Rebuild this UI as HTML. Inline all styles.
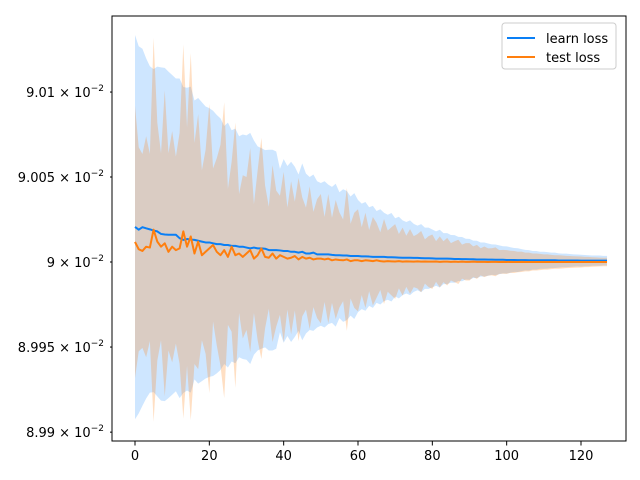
<!DOCTYPE html>
<html><head><meta charset="utf-8"><style>
body{margin:0;background:#fff;}
svg{display:block;font-family:"DejaVu Sans","Liberation Sans",sans-serif;}
</style></head><body>
<svg id="chart" width="640" height="480" viewBox="0 0 640 480" xmlns="http://www.w3.org/2000/svg">
<rect width="640" height="480" fill="#fff"/>
<g id="plot"></g>
<rect x="112" y="16" width="514" height="425" fill="none" stroke="#000" stroke-width="1"/>
<g id="axes" font-size="13" fill="#000"></g>
<g>
<rect x="502" y="23" width="114" height="46" rx="3" fill="#fff" fill-opacity="0.8" stroke="#ccc"/>
<line x1="507" y1="38" x2="535" y2="38" stroke="#0a7ff5" stroke-width="2"/>
<text x="546" y="43" font-size="13">learn loss</text>
<line x1="507" y1="57" x2="535" y2="57" stroke="#ff7f0e" stroke-width="2"/>
<text x="546" y="62" font-size="13">test loss</text>
</g>
</svg>
<script>
// offsets from 9e-2 in units of 1e-5
const learnMean=[2.06,1.9,2.05,1.98,1.92,1.85,1.8,1.65,1.62,1.6,1.6,1.6,1.4,1.3,1.35,1.32,1.3,1.25,1.2,1.15,1.15,1.1,1.05,1.05,1.0,1.0,0.95,0.95,0.9,0.9,0.85,0.8,0.85,0.8,0.8,0.78,0.7,0.7,0.7,0.68,0.65,0.65,0.6,0.6,0.55,0.6,0.5,0.5,0.55,0.45,0.45,0.45,0.45,0.42,0.4,0.4,0.38,0.38,0.35,0.35,0.35,0.33,0.33,0.32,0.3,0.3,0.3,0.3,0.28,0.28,0.27,0.26,0.25,0.25,0.25,0.24,0.24,0.23,0.22,0.22,0.21,0.2,0.2,0.2,0.2,0.19,0.18,0.18,0.17,0.17,0.16,0.16,0.15,0.15,0.15,0.14,0.14,0.13,0.13,0.13,0.12,0.12,0.12,0.11,0.11,0.11,0.1,0.1,0.1,0.1,0.1,0.1,0.1,0.1,0.09,0.09,0.09,0.09,0.09,0.09,0.08,0.08,0.08,0.08,0.08,0.08,0.08,0.08];
const learnStd=[11.3,10.8,10.5,10.0,9.6,9.5,9.7,9.8,9.8,9.6,9.4,9.2,9.4,9.0,8.9,9.0,8.2,8.4,8.2,8.0,7.9,7.8,7.6,7.4,7.0,7.2,6.8,6.9,6.5,6.6,6.6,6.8,6.3,6.0,5.9,5.8,5.9,5.9,5.8,4.8,5.4,5.0,5.3,5.0,4.6,5.2,4.7,4.5,4.6,4.3,4.2,4.3,4.1,4.0,4.2,3.7,3.9,3.8,3.5,3.7,3.3,3.1,3.2,2.9,3.0,2.7,2.8,2.6,2.5,2.6,2.3,2.4,2.2,2.1,2.2,2.0,1.9,2.0,1.8,1.8,1.7,1.6,1.7,1.5,1.5,1.4,1.4,1.3,1.3,1.2,1.2,1.1,1.1,1.0,1.0,0.95,0.9,0.9,0.85,0.8,0.8,0.75,0.7,0.7,0.65,0.6,0.6,0.55,0.55,0.5,0.5,0.48,0.45,0.45,0.42,0.4,0.4,0.38,0.36,0.35,0.35,0.33,0.32,0.3,0.3,0.3,0.28,0.28];
const testMean=[1.18,0.75,0.65,0.9,0.85,1.9,1.2,0.9,1.1,0.6,0.9,0.7,0.8,1.8,0.9,1.5,0.5,1.2,0.4,0.6,0.8,1.0,0.6,0.4,0.7,0.3,0.9,0.4,0.5,0.3,0.5,0.7,0.2,0.4,0.8,0.3,0.25,0.5,0.2,0.4,0.3,0.2,0.25,0.35,0.15,0.3,0.2,0.25,0.15,0.2,0.2,0.15,0.2,0.1,0.15,0.12,0.1,0.15,0.05,0.1,0.1,0.05,0.1,0.08,0.05,0.1,0.05,0.03,0.05,0.04,0.03,0.05,0.02,0.04,0.03,0.02,0.04,0.02,0.03,0.02,0.02,0.03,0.01,0.02,0.02,0.01,0.02,0.01,0.02,0.01,0.01,0.02,0.01,0.01,0.01,0.0,0.01,0.01,0.0,0.01,0.0,0.01,0.0,0.0,0.01,0.0,0.0,0.0,0.0,0.0,0.0,0.0,0.0,0.0,0.0,0.0,0.0,0.0,0.0,0.0,0.0,0.0,0.0,0.0,0.0,0.0,0.0,0.0];
const testStd=[8.0,6.0,5.7,6.5,5.5,11.3,7.0,5.5,9.0,5.8,6.8,5.5,6.8,11.0,7.0,10.8,6.5,7.5,5.0,6.0,8.5,4.5,5.5,6.5,8.7,4.0,5.0,7.8,3.5,4.8,4.5,6.0,3.2,5.0,6.5,4.2,3.0,5.2,4.0,3.5,5.0,3.0,4.5,3.2,4.8,3.5,3.0,4.2,2.8,3.5,3.8,2.5,3.8,2.5,3.5,2.8,2.4,4.2,2.2,2.8,3.0,2.0,2.8,1.8,2.6,2.2,1.7,2.5,1.8,2.0,2.2,1.6,2.0,1.5,1.9,1.5,1.6,1.8,1.3,1.5,1.6,1.2,1.5,1.2,1.4,1.1,1.2,1.3,1.0,1.1,1.1,0.9,1.0,0.8,0.9,0.8,0.8,0.85,0.7,0.7,0.7,0.65,0.65,0.6,0.6,0.55,0.55,0.5,0.5,0.48,0.45,0.45,0.42,0.4,0.4,0.38,0.36,0.35,0.34,0.33,0.32,0.3,0.3,0.28,0.27,0.26,0.25,0.25];
const xTicks=[0,20,40,60,80,100,120];
const yTicks=[8.99,8.995,9,9.005,9.01];
const yTickLabels=["8.99","8.995","9","9.005","9.01"];

const NS="http://www.w3.org/2000/svg";
const X=i=>135+(i)*(581-135)/120;
// log-scale y; 9e-2 at 262, 9.005e-2 at 177
const L0=Math.log(9e-2), K=85/(Math.log(9.005e-2)-L0);
const Y=v=>262-(Math.log(v)-L0)*K;          // v absolute
const Yo=d=>Y(0.09+d*1e-5);                  // offset units
const plot=document.getElementById('plot');
function el(t,a){const e=document.createElementNS(NS,t);for(const k in a)e.setAttribute(k,a[k]);return e;}
function band(mean,std,fill,op,name){
  let up=[],lo=[];
  mean.forEach((m,i)=>{up.push(X(i).toFixed(2)+","+Yo(m+std[i]).toFixed(2));lo.unshift(X(i).toFixed(2)+","+Yo(m-std[i]).toFixed(2));});
  const p=el('polygon',{points:up.concat(lo).join(" "),fill:fill,'fill-opacity':op});
  
  
  plot.appendChild(p);
}
function line(mean,color,name){
  const p=el('polyline',{points:mean.map((m,i)=>X(i).toFixed(2)+","+Yo(m).toFixed(2)).join(" "),fill:'none',stroke:color,'stroke-width':2,'stroke-linejoin':'round'});
  
  
  plot.appendChild(p);
}
band(learnMean,learnStd,'#0a84ff',0.2,'learn-loss-band');
band(testMean,testStd,'#ff7f0e',0.25,'test-loss-band');
line(learnMean,'#0a7ff5','learn-loss-line');
line(testMean,'#ff7f0e','test-loss-line');

const ax=document.getElementById('axes');
xTicks.forEach(t=>{
  const x=X(t);
  ax.appendChild(el('line',{x1:x,y1:441,x2:x,y2:445.5,stroke:'#000'}));
  const tx=el('text',{x:x,y:460,'text-anchor':'middle'});tx.textContent=t;
  
  
  ax.appendChild(tx);
});
yTicks.forEach((t,i)=>{
  const y=Y(t*1e-2);
  ax.appendChild(el('line',{x1:110,y1:y,x2:112,y2:y,stroke:'#000'}));
  const tx=el('text',{x:104,y:y+5,'text-anchor':'end'});
  tx.innerHTML=yTickLabels[i]+" × 10<tspan dy='-6' font-size='9'>−2</tspan>";
  
  
  ax.appendChild(tx);
});
</script>
</body></html>
